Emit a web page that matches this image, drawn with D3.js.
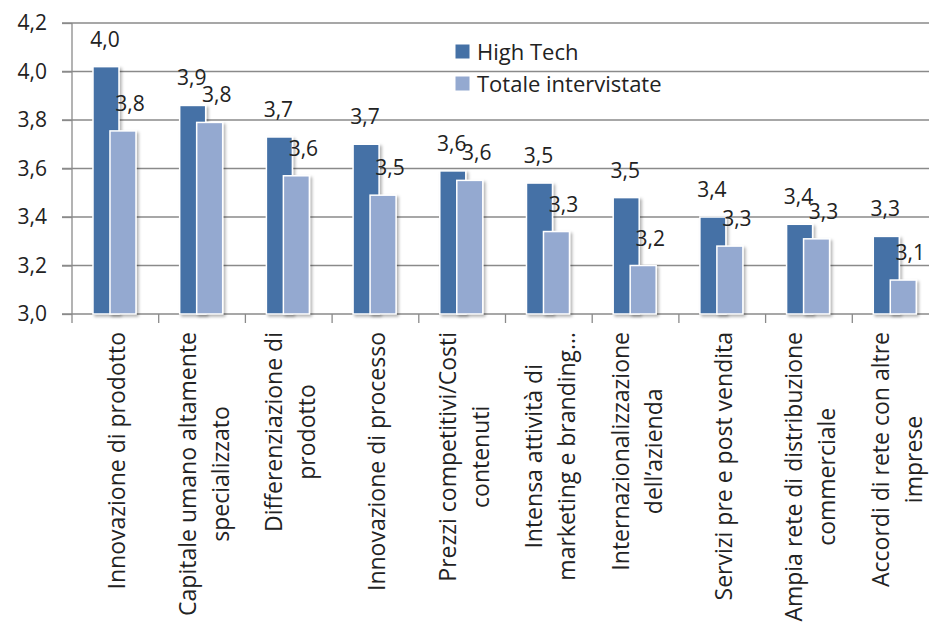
<!DOCTYPE html>
<html>
<head>
<meta charset="utf-8">
<script src="https://cdn.jsdelivr.net/npm/d3@7"></script>
<style>
  html, body { margin: 0; padding: 0; background: #fff; }
  svg { display: block; font-family: "Open Sans", "Noto Sans", sans-serif; }
</style>
</head>
<body>
<svg id="chart" width="929" height="626"></svg>
<script>
// ---- data ----
const categories = [
  ["Innovazione di prodotto"],
  ["Capitale umano altamente", "specializzato"],
  ["Differenziazione di", "prodotto"],
  ["Innovazione di processo"],
  ["Prezzi competitivi/Costi", "contenuti"],
  ["Intensa attività di", "marketing e branding…"],
  ["Internazionalizzazione", "dell’azienda"],
  ["Servizi pre e post vendita"],
  ["Ampia rete di distribuzione", "commerciale"],
  ["Accordi di rete con altre", "imprese"]
];
const seriesNames = ["High Tech", "Totale intervistate"];
const highTech = [4.02, 3.86, 3.73, 3.70, 3.59, 3.54, 3.48, 3.40, 3.37, 3.32];
const totale   = [3.755, 3.79, 3.57, 3.49, 3.551, 3.34, 3.20, 3.28, 3.31, 3.14];
const yTicks = [3.0, 3.2, 3.4, 3.6, 3.8, 4.0, 4.2];

// ---- layout ----
const svg = d3.select("#chart");
const mLeft = 72, mRight = 939, mTop = 23, mBottom = 314;
const colors = ["#4571A6", "#94A9D0"];
const textColor = "#222";
const gridColor = "#8a8a8a";

const x = d3.scaleBand().domain(d3.range(categories.length)).range([mLeft, mRight]).padding(0);
const y = d3.scaleLinear().domain([3.0, 4.2]).range([mBottom, mTop]);
const bw = x.bandwidth();
const xs = d3.scaleOrdinal().domain(seriesNames).range([bw * 0.242, bw * 0.438]);
const barW = bw * 0.30;
const fmt = v => d3.format(".1f")(v).replace(".", ",");

// shadow filter
const defs = svg.append("defs");
const f = defs.append("filter").attr("id", "shadow").attr("x", "-20%").attr("y", "-20%").attr("width", "160%").attr("height", "140%");
f.append("feDropShadow").attr("dx", 2).attr("dy", 2).attr("stdDeviation", 1.6)
  .attr("flood-color", "#000").attr("flood-opacity", 0.3);

// gridlines
svg.append("g").selectAll("line").data(yTicks.filter(t => t > 3.0)).join("line")
  .attr("x1", mLeft - 10).attr("x2", 929)
  .attr("y1", d => y(d)).attr("y2", d => y(d))
  .attr("stroke", gridColor).attr("stroke-width", 1.3);

// y axis
const yAxis = svg.append("g").attr("transform", `translate(${mLeft},0)`)
  .call(d3.axisLeft(y).tickValues(yTicks).tickSize(10).tickFormat(fmt));
yAxis.select(".domain").remove();
yAxis.selectAll(".tick line").attr("stroke", gridColor).attr("stroke-width", 1.3);
yAxis.selectAll(".tick text").attr("x", -25).attr("fill", textColor)
  .style("font-size", "21px").style("font-family", "'Open Sans', sans-serif");
svg.append("line").attr("x1", mLeft).attr("x2", mLeft).attr("y1", mTop).attr("y2", mBottom + 9)
  .attr("stroke", gridColor).attr("stroke-width", 1.3);

// x axis line and ticks
svg.append("line").attr("x1", mLeft - 10).attr("x2", 929).attr("y1", mBottom).attr("y2", mBottom)
  .attr("stroke", gridColor).attr("stroke-width", 1.3);
svg.append("g").selectAll("line").data(d3.range(1, categories.length)).join("line")
  .attr("x1", d => x(d)).attr("x2", d => x(d))
  .attr("y1", mBottom).attr("y2", mBottom + 9)
  .attr("stroke", gridColor).attr("stroke-width", 1.3);

// bars
const seriesData = [highTech, totale];
seriesData.forEach((vals, si) => {
  const g = svg.append("g");
  g.selectAll("rect").data(vals).join("rect")
    .attr("x", (d, i) => x(i) + xs(seriesNames[si]))
    .attr("y", d => y(d))
    .attr("width", barW)
    .attr("height", d => y(3.0) - y(d))
    .attr("fill", colors[si])
    .attr("stroke", "#fff").attr("stroke-width", 1.5)
    .attr("filter", "url(#shadow)");
});

// value labels
seriesData.forEach((vals, si) => {
  svg.append("g").selectAll("text").data(vals).join("text")
    .attr("x", (d, i) => x(i) + xs(seriesNames[si]) + barW / 2 + (si === 0 ? -1 : 7))
    .attr("y", d => y(d) - 20)
    .attr("text-anchor", "middle")
    .attr("fill", textColor)
    .style("font-size", "21px")
    .text(d => fmt(d));
});

// category labels (rotated)
const labelTop = 332, lineStep = 33;
categories.forEach((lines, i) => {
  const cx = x(i) + bw / 2;
  const g = svg.append("g").attr("transform", `translate(${cx},${labelTop}) rotate(-90)`);
  const texts = g.selectAll("text").data(lines).join("text")
    .attr("fill", textColor)
    .style("font-size", "23px")
    .attr("text-anchor", "middle")
    .text(d => d);
  let maxLen = 0;
  texts.each(function() { maxLen = Math.max(maxLen, this.getComputedTextLength()); });
  const n = lines.length;
  texts.attr("x", -maxLen / 2)
    .attr("y", (d, j) => 2 + (j - (n - 1) / 2) * lineStep + 8);
});

// legend
const legend = svg.append("g");
seriesNames.forEach((name, i) => {
  const yy = 51.5 + i * 32;
  legend.append("rect").attr("x", 455).attr("y", yy - 7.5).attr("width", 15).attr("height", 15)
    .attr("fill", colors[i]).attr("stroke", "#fff").attr("stroke-width", 1);
  legend.append("text").attr("x", 477).attr("y", yy + 8)
    .attr("fill", textColor).style("font-size", "22px").text(name);
});
</script>
</body>
</html>
